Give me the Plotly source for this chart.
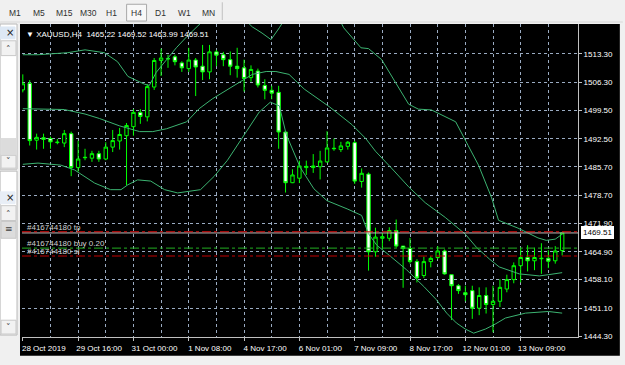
import plotly.graph_objects as go

W, H = 625, 365
PL, PR, PT, PB = 22, 45, 24, 24

# ---------------- data ----------------
OPEN = [1504.5, 1506.1, 1492.2, 1492.8, 1492.6, 1491.6, 1491.5, 1493.8, 1485.5, 1487.9,
        1487.8, 1488.9, 1487.6, 1490.5, 1492.0, 1493.3, 1495.5, 1499.0, 1497.9, 1505.2,
        1511.7, 1512.2, 1512.6, 1511.1, 1509.7, 1511.8, 1510.3, 1508.9, 1513.8, 1513.1,
        1511.9, 1510.3, 1509.9, 1507.5, 1509.1, 1505.6, 1504.4, 1503.9, 1494.2, 1481.8,
        1482.9, 1485.5, 1485.5, 1485.7, 1486.9, 1490.1, 1489.9, 1490.7, 1491.6, 1482.1,
        1483.9, 1464.9, 1468.2, 1468.2, 1470.1, 1466.3, 1465.7, 1462.5, 1459.1, 1462.5,
        1463.5, 1465.1, 1459.3, 1456.6, 1454.9, 1455.4, 1451.1, 1454.2, 1452.0, 1452.8,
        1455.8, 1458.1, 1461.5, 1463.5, 1462.7, 1463.2, 1463.3, 1462.7, 1465.22]
HIGH = [1508.3, 1506.9, 1493.8, 1493.8, 1493.1, 1492.5, 1494.7, 1494.3, 1492.1, 1490.1,
        1489.6, 1489.6, 1491.7, 1494.7, 1495.2, 1496.4, 1499.8, 1499.8, 1505.9, 1512.3,
        1514.6, 1513.1, 1513.1, 1511.5, 1514.8, 1512.3, 1515.5, 1515.5, 1514.3, 1513.8,
        1513.9, 1514.8, 1511.9, 1510.5, 1509.7, 1507.1, 1505.5, 1505.5, 1494.2, 1485.1,
        1487.2, 1487.2, 1488.8, 1489.6, 1494.4, 1492.6, 1491.8, 1492.0, 1492.1, 1485.3,
        1484.3, 1470.8, 1469.5, 1470.9, 1472.8, 1466.3, 1468.3, 1463.1, 1463.7, 1463.8,
        1466.3, 1465.5, 1459.3, 1457.0, 1456.6, 1456.6, 1456.2, 1456.2, 1456.6, 1458.2,
        1459.3, 1462.3, 1465.9, 1466.5, 1465.9, 1467.0, 1465.3, 1466.3, 1469.52]
LOW = [1503.9, 1490.9, 1489.9, 1490.1, 1490.1, 1491.2, 1490.5, 1483.4, 1484.5, 1487.3,
       1486.9, 1486.9, 1487.3, 1489.3, 1489.9, 1481.2, 1493.3, 1496.2, 1496.8, 1504.5,
       1507.9, 1509.9, 1510.5, 1508.9, 1508.9, 1503.0, 1506.9, 1507.1, 1510.3, 1510.3,
       1508.1, 1507.5, 1504.1, 1506.5, 1505.1, 1502.2, 1502.2, 1490.1, 1479.4, 1481.7,
       1481.7, 1483.7, 1484.2, 1482.6, 1486.7, 1489.6, 1489.3, 1489.9, 1481.5, 1480.6,
       1460.3, 1463.7, 1465.5, 1467.5, 1465.9, 1456.1, 1462.0, 1457.4, 1458.5, 1461.1,
       1463.1, 1459.3, 1448.2, 1454.6, 1452.8, 1448.5, 1449.4, 1449.8, 1445.2, 1451.4,
       1455.0, 1457.2, 1457.4, 1460.1, 1460.4, 1459.5, 1460.9, 1462.0, 1463.99]
CLOSE = [1506.0, 1492.1, 1492.9, 1492.4, 1491.8, 1491.7, 1493.8, 1485.5, 1487.6, 1488.0,
         1488.9, 1487.6, 1490.5, 1492.1, 1493.6, 1495.8, 1499.0, 1498.0, 1505.3, 1511.7,
         1512.3, 1512.1, 1511.4, 1509.9, 1511.8, 1510.1, 1508.9, 1513.8, 1513.0, 1511.9,
         1510.3, 1509.7, 1507.3, 1509.5, 1505.7, 1504.4, 1503.7, 1494.2, 1481.8, 1483.7,
         1485.9, 1485.8, 1485.9, 1487.1, 1490.3, 1490.2, 1490.8, 1491.7, 1482.2, 1484.1,
         1464.9, 1468.5, 1468.6, 1470.1, 1466.3, 1465.7, 1462.5, 1458.5, 1462.5, 1463.3,
         1465.1, 1459.5, 1456.6, 1455.4, 1454.4, 1451.1, 1454.2, 1452.0, 1452.8, 1456.2,
         1458.1, 1461.5, 1463.5, 1462.7, 1463.5, 1463.3, 1462.6, 1465.1, 1469.51]
BAR = list(range(len(OPEN)))

# Bollinger bands (bar position, price)
UPPER_X = [0, 2.2, 6.5, 9.0, 11.8, 13.7, 15.2, 17.6, 18.3, 19.3, 20.8, 22.2, 23.7, 25.1,
           26.5, 31.3, 33.2, 34.6, 35.9, 37.1, 38.5, 42.1, 45.7, 46.4, 48.9, 50.0, 51.9,
           55.8, 57.2, 59.1, 62.6, 64.4, 65.9, 67.8, 68.8, 71.6, 74.5, 75.7, 77.0, 78]
UPPER_Y = [1513.1, 1513.1, 1513.6, 1514.3, 1513.6, 1511.4, 1507.8, 1505.9, 1505.6, 1508.8,
           1511.9, 1514.8, 1517.5, 1519.9, 1522.1, 1523.0, 1519.9, 1518.4, 1516.8, 1519.7,
           1523.5, 1528.8, 1522.1, 1519.7, 1514.8, 1514.6, 1511.9, 1501.0, 1499.8, 1499.6,
           1496.7, 1490.9, 1486.1, 1478.1, 1472.6, 1470.7, 1468.3, 1467.7, 1468.0, 1469.2]
MID_X = [0, 6.0, 9.0, 11.1, 14.0, 16.9, 18.8, 20.8, 23.7, 25.5, 27.4, 30.3, 33.2, 35.2,
         36.6, 38.5, 40.7, 44.4, 47.6, 49.6, 51.0, 53.3, 55.8, 58.2, 61.1, 64.0, 65.6,
         67.5, 68.9, 71.8, 74.7, 76.0, 78]
MID_Y = [1499.9, 1499.7, 1498.6, 1497.5, 1495.7, 1494.3, 1494.3, 1495.0, 1496.7, 1499.9,
         1502.3, 1505.4, 1508.3, 1509.0, 1509.0, 1508.3, 1504.7, 1500.3, 1496.0, 1492.6,
         1489.5, 1485.4, 1480.8, 1476.9, 1473.3, 1469.2, 1466.0, 1463.1, 1461.2, 1459.5,
         1459.0, 1459.3, 1459.8]
LOWER_X = [0, 2.2, 5.5, 7.5, 10.4, 12.7, 14.2, 15.2, 16.6, 18.5, 20.5, 22.4, 25.7, 27.7,
           29.6, 31.7, 34.2, 35.8, 37.1, 38.1, 40.1, 42.1, 44.0, 46.9, 49.0, 50.0, 51.2,
           53.1, 55.5, 58.0, 59.8, 61.3, 62.7, 64.0, 65.2, 66.9, 68.3, 69.8, 72.7, 76.0, 78]
LOWER_Y = [1486.3, 1486.6, 1486.1, 1484.9, 1481.7, 1480.1, 1480.1, 1481.3, 1482.5, 1482.2,
           1480.1, 1479.3, 1480.1, 1483.4, 1487.3, 1492.6, 1499.1, 1501.5, 1500.6, 1493.6,
           1485.6, 1480.3, 1477.4, 1475.4, 1473.8, 1469.3, 1466.5, 1463.9, 1460.5, 1456.4,
           1453.2, 1449.9, 1447.5, 1446.0, 1445.0, 1446.0, 1447.2, 1448.7, 1449.9, 1450.3,
           1449.9]

PRICE_TICKS = [1513.30, 1506.30, 1499.50, 1492.50, 1485.70, 1478.70, 1471.90,
               1464.90, 1458.10, 1451.10, 1444.30]
TIME_TICK_BARS = [0, 8, 16, 24, 32, 40, 48, 56, 64, 72]
TIME_TICK_TEXT = ["28 Oct 2019", "29 Oct 16:00", "31 Oct 00:00", "1 Nov 08:00",
                  "4 Nov 17:00", "6 Nov 01:00", "7 Nov 09:00", "8 Nov 17:00",
                  "12 Nov 01:00", "13 Nov 09:00"]
GRID_BARS = list(range(4, 81, 8))

SYMBOL = "XAUUSD,H4"
TICKET = "#416744180"
TP_LEVEL = 1469.80
OPEN_LEVEL = 1465.80
SL_LEVEL = 1463.87
BID = 1469.51
LOT = "0.20"
TIMEFRAMES = ["M1", "M5", "M15", "M30", "H1", "H4", "D1", "W1", "MN"]
TF_CENTERS = [15, 39.5, 65, 89, 111.5, 136.5, 160.5, 185, 209.5]

FONT = "Liberation Sans"
GRID = "#9aabc2"
BAND = "#3cb371"

def px(x):
    return (x - PL) / (W - PL - PR)

def py(y):
    return (H - PB - y) / (H - PT - PB)

fig = go.Figure()

for bx, by in ((UPPER_X, UPPER_Y), (MID_X, MID_Y), (LOWER_X, LOWER_Y)):
    fig.add_trace(go.Scatter(x=bx, y=by, mode="lines",
                             line=dict(color=BAND, width=1), hoverinfo="skip",
                             showlegend=False))

fig.add_trace(go.Candlestick(
    x=BAR, open=OPEN, high=HIGH, low=LOW, close=CLOSE,
    increasing=dict(line=dict(color="#00ff00", width=1), fillcolor="#000000"),
    decreasing=dict(line=dict(color="#00ff00", width=1), fillcolor="#ffffff"),
    whiskerwidth=0, showlegend=False, hoverinfo="skip"))

shapes = []
annos = []

# chart window background
shapes.append(dict(type="rect", xref="paper", yref="paper", x0=px(20), x1=px(622),
                   y0=py(24), y1=py(360), fillcolor="#000000", line=dict(width=0),
                   layer="below"))

# order / price levels
shapes.append(dict(type="line", xref="paper", yref="y", x0=0, x1=1, y0=BID, y1=BID,
                   line=dict(color="#c0c0c0", width=1)))
shapes.append(dict(type="line", xref="paper", yref="y", x0=0, x1=1, y0=TP_LEVEL, y1=TP_LEVEL,
                   line=dict(color="#e01010", width=1, dash="dashdot")))
shapes.append(dict(type="line", xref="paper", yref="y", x0=0, x1=1, y0=OPEN_LEVEL, y1=OPEN_LEVEL,
                   line=dict(color="#22b022", width=1, dash="dashdot")))
shapes.append(dict(type="line", xref="paper", yref="y", x0=0, x1=1, y0=SL_LEVEL, y1=SL_LEVEL,
                   line=dict(color="#c00000", width=1, dash="dashdot")))

for lvl, txt in ((TP_LEVEL, f"{TICKET} tp"), (OPEN_LEVEL, f"{TICKET} buy {LOT}"),
                 (SL_LEVEL, f"{TICKET} sl")):
    annos.append(dict(xref="paper", yref="y", x=px(26), y=lvl, text=txt, showarrow=False,
                      xanchor="left", yanchor="bottom", yshift=-1,
                      font=dict(family=FONT, size=8, color="#d0d0d0"), borderpad=0))

# current price label
annos.append(dict(xref="paper", yref="y", x=1, y=BID, text=f"{BID:.2f}", showarrow=False,
                  xanchor="left", yanchor="middle", xshift=3, bgcolor="#ffffff",
                  bordercolor="#ffffff", borderpad=1,
                  font=dict(family=FONT, size=8, color="#000000")))

# header text
annos.append(dict(xref="paper", yref="paper", x=px(24), y=py(35),
                  text=f"▼ {SYMBOL}  {OPEN[-1]:.2f} {HIGH[-1]:.2f} {LOW[-1]:.2f} {CLOSE[-1]:.2f}",
                  showarrow=False, xanchor="left", yanchor="middle",
                  font=dict(family=FONT, size=8, color="#ffffff")))

# ---- UI chrome: toolbar ----
shapes.append(dict(type="line", xref="paper", yref="paper", x0=px(0), x1=px(625),
                   y0=py(22), y1=py(22), line=dict(color="#d8d8d8", width=1)))
shapes.append(dict(type="rect", xref="paper", yref="paper", x0=px(127), x1=px(147),
                   y0=py(4), y1=py(21), fillcolor="#f8f8f8",
                   line=dict(color="#a8a8a8", width=1)))
shapes.append(dict(type="line", xref="paper", yref="paper", x0=px(223), x1=px(223),
                   y0=py(2), y1=py(20), line=dict(color="#c0c0c0", width=1)))
for tf, cx in zip(TIMEFRAMES, TF_CENTERS):
    annos.append(dict(xref="paper", yref="paper", x=px(cx), y=py(13), text=tf,
                      showarrow=False, xanchor="center", yanchor="middle",
                      font=dict(family=FONT, size=8.5, color="#303030")))

# ---- UI chrome: left panels ----
def rect(x0, y0, x1, y1, fill, line="#c8c8c8"):
    shapes.append(dict(type="rect", xref="paper", yref="paper", x0=px(x0), x1=px(x1),
                       y0=py(y0), y1=py(y1), fillcolor=fill,
                       line=dict(color=line, width=1), layer="below"))

def label(x, y, t, size=9, color="#202020"):
    annos.append(dict(xref="paper", yref="paper", x=px(x), y=py(y), text=t,
                      showarrow=False, xanchor="center", yanchor="middle",
                      font=dict(family="DejaVu Sans", size=size, color=color)))

rect(0, 24, 17, 171, "#ffffff", "#b8b8b8")
rect(0, 27, 15, 39, "#dde8f5", "#dde8f5")
label(10, 33, "×", 10)
rect(1, 41, 16, 56, "#f2f2f2")
label(8.5, 49, "˄", 9, "#404040")
rect(1, 140, 16, 156, "#dcdcdc", "#dcdcdc")
rect(1, 157, 16, 170, "#f2f2f2")
label(8.5, 163, "˅", 9, "#404040")

rect(0, 173, 17, 339, "#ffffff", "#b8b8b8")
rect(0, 194, 15, 206, "#e8eef6", "#e8eef6")
label(10, 200, "×", 10)
rect(1, 208, 16, 223, "#f2f2f2")
label(8.5, 216, "˄", 9, "#404040")
rect(1, 224, 16, 241, "#dcdcdc")
label(8.5, 232, "≡", 9, "#404040")
rect(1, 324, 16, 338, "#f2f2f2")
label(8.5, 331, "˅", 9, "#404040")

fig.update_layout(
    width=W, height=H,
    margin=dict(l=PL, r=PR, t=PT, b=PB, pad=0),
    paper_bgcolor="#f0f0f0", plot_bgcolor="#000000",
    showlegend=False, hovermode=False,
    shapes=shapes, annotations=annos,
    xaxis=dict(range=[-0.115, 80.29], rangeslider=dict(visible=False),
               tickmode="array", tickvals=TIME_TICK_BARS, ticktext=TIME_TICK_TEXT,
               ticks="outside", ticklen=3, tickcolor="#c0c0c0",
               ticklabelshift=21, ticklabelstandoff=0,
               tickfont=dict(family=FONT, size=8, color="#ffffff"),
               showgrid=True, gridcolor=GRID, griddash="3px,3px", gridwidth=1,
               minor=dict(tickmode="array", tickvals=GRID_BARS, showgrid=True,
                          gridcolor=GRID, griddash="3px,3px", gridwidth=1, ticks=""),
               showline=True, linecolor="#c0c0c0", linewidth=1,
               zeroline=False, fixedrange=True),
    yaxis=dict(range=[1444.06, 1520.62], side="right",
               tickmode="array", tickvals=PRICE_TICKS,
               ticktext=[f"{v:.2f}" for v in PRICE_TICKS],
               ticks="outside", ticklen=3, tickcolor="#c0c0c0",
               tickfont=dict(family=FONT, size=8, color="#ffffff"),
               showgrid=True, gridcolor=GRID, griddash="3px,3px", gridwidth=1,
               showline=True, linecolor="#c0c0c0", linewidth=1,
               zeroline=False, fixedrange=True),
)

fig.write_html("out.html", config={"displayModeBar": False})
